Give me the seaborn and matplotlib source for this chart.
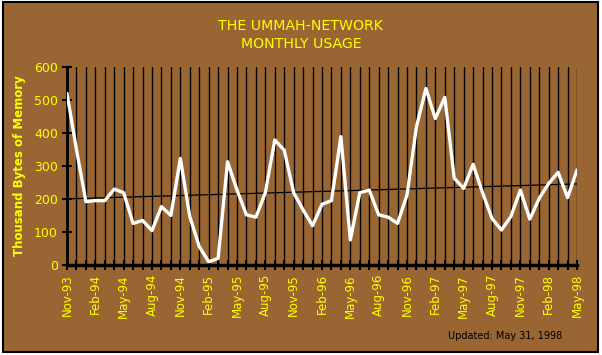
import matplotlib
matplotlib.use("Agg")
import matplotlib.pyplot as plt
import seaborn as sns
import pandas as pd
from matplotlib.patches import Rectangle

# ---- data ----
months = [d.strftime("%b-%y") for d in pd.date_range("1993-11-01", "1998-05-01", freq="MS")]
usage = [520, 350, 192, 195, 195, 230, 219, 126, 135, 104,
         177, 150, 323, 147, 56, 10, 20, 313, 227, 152,
         145, 219, 379, 348, 219, 167, 119, 184, 195, 389,
         76, 219, 227, 152, 145, 126, 212, 419, 535, 444,
         508, 263, 232, 305, 219, 141, 106, 147, 227, 139,
         202, 247, 281, 204, 288]
tick_labels = ["Nov-93", "Feb-94", "May-94", "Aug-94", "Nov-94", "Feb-95", "May-95",
               "Aug-95", "Nov-95", "Feb-96", "May-96", "Aug-96", "Nov-96", "Feb-97",
               "May-97", "Aug-97", "Nov-97", "Feb-98", "May-98"]
y_ticks = [0, 100, 200, 300, 400, 500, 600]
title = "THE UMMAH-NETWORK\nMONTHLY USAGE"
y_label = "Thousand Bytes of Memory"
note = "Updated: May 31, 1998"

BROWN = "#996633"
YELLOW = "#FFFF00"

df = pd.DataFrame({"idx": range(len(months)), "month": months, "usage": usage})

sns.set_theme(style="white")
plt.rcParams["font.family"] = ["DejaVu Sans"]

W, H = 602, 355
fig = plt.figure(figsize=(W / 100, H / 100), dpi=100)
fig.patch.set_facecolor("white")
fig.add_artist(Rectangle((3 / W, 3 / H), 595 / W, 350 / H, transform=fig.transFigure,
                         facecolor=BROWN, edgecolor="black", lw=1.5, zorder=0))

ax = fig.add_axes([67 / W, 1 - 265 / H, (577 - 67) / W, (265 - 67) / H])
ax.patch.set_alpha(0)

# vertical gridlines at each month
for i in df["idx"]:
    ax.axvline(i, color="black", lw=1.0, zorder=1)

sns.regplot(data=df, x="idx", y="usage", scatter=False, ci=None, ax=ax,
            line_kws=dict(color="black", lw=0.9, zorder=2))
sns.lineplot(data=df, x="idx", y="usage", color="white", lw=2.4, ax=ax, zorder=3)

ax.set_xlim(0, len(months) - 1)
ax.set_ylim(0, 600)
ax.set_yticks(y_ticks)
ax.set_yticklabels([str(v) for v in y_ticks], color=YELLOW, fontsize=9)
ax.set_xticks(list(df["idx"]))
lbls = []
j = 0
for i in df["idx"]:
    if i % 3 == 0:
        lbls.append(tick_labels[j]); j += 1
    else:
        lbls.append("")
ax.set_xticklabels(lbls, rotation=90, color=YELLOW, fontsize=8.5)
ax.set_xlabel("")
ax.set_ylabel(y_label, color=YELLOW, fontsize=8.5, fontweight="bold", labelpad=6)

for s in ["top", "right"]:
    ax.spines[s].set_visible(False)
ax.spines["left"].set_color("black")
ax.spines["left"].set_linewidth(2)
ax.spines["bottom"].set_color("black")
ax.spines["bottom"].set_linewidth(2.5)
ax.tick_params(axis="x", direction="inout", length=7, width=1.5, color="black", pad=3)
ax.tick_params(axis="y", direction="inout", length=7, width=1.5, color="black", pad=3,
               left=True)
ax.tick_params(axis="x", bottom=True)

fig.text(0.5, 1 - 35 / H, title, ha="center", va="center", color=YELLOW,
         fontsize=10.2, linespacing=1.35)
fig.text(505 / W, 1 - 336 / H, note, ha="center", va="center", color="black", fontsize=7)

fig.savefig("out.png", dpi=100, facecolor=fig.get_facecolor())
